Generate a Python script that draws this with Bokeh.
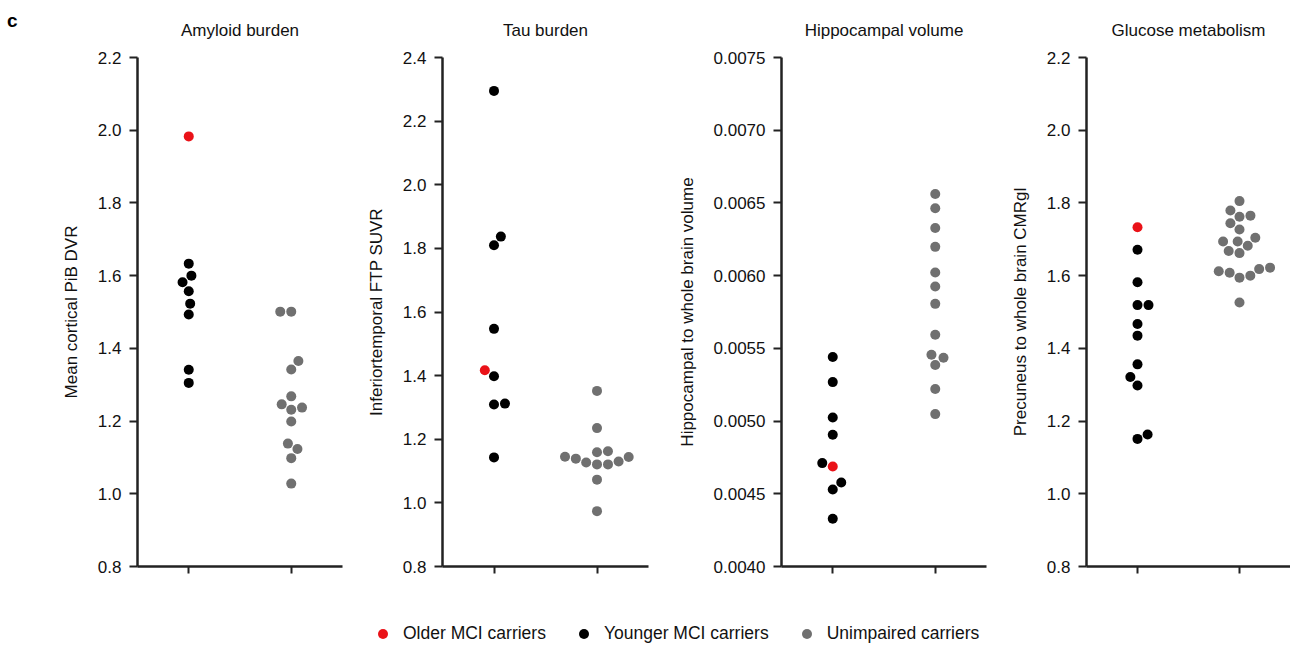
import math
from bokeh.plotting import figure
from bokeh.models import (Range1d, FixedTicker, NumeralTickFormatter, Div,
                          Legend, LegendItem, ColumnDataSource, Title)
from bokeh.layouts import row, column
from bokeh.embed import file_html
from bokeh.resources import INLINE

# ---------------- data ----------------
panel_titles = ["Amyloid burden", "Tau burden", "Hippocampal volume", "Glucose metabolism"]
axis_labels = ["Mean cortical PiB DVR", "Inferiortemporal FTP SUVR",
               "Hippocampal to whole brain volume", "Precuneus to whole brain CMRgl"]
group_names = ["Older MCI carriers", "Younger MCI carriers", "Unimpaired carriers"]
panel_letter = "c"

amyloid_older = [1.983]
amyloid_younger = [1.633, 1.600, 1.582, 1.557, 1.523, 1.493, 1.341, 1.305]
amyloid_unimpaired = [1.501, 1.501, 1.365, 1.342, 1.268, 1.246, 1.237, 1.231,
                      1.199, 1.138, 1.123, 1.098, 1.028]

tau_older = [1.417]
tau_younger = [2.295, 1.837, 1.810, 1.547, 1.398, 1.312, 1.309, 1.143]
tau_unimpaired = [1.352, 1.235, 1.162, 1.159, 1.145, 1.144, 1.139, 1.130,
                  1.127, 1.121, 1.121, 1.073, 0.974]

hippo_older = [0.004688]
hippo_younger = [0.005440, 0.005268, 0.005025, 0.004906, 0.004711, 0.004578,
                 0.004530, 0.004328]
hippo_unimpaired = [0.006561, 0.006464, 0.006327, 0.006198, 0.006022, 0.005925,
                    0.005806, 0.005593, 0.005456, 0.005435, 0.005385, 0.005220,
                    0.005048]

glucose_older = [1.733]
glucose_younger = [1.671, 1.582, 1.519, 1.519, 1.467, 1.435, 1.356, 1.321,
                   1.298, 1.163, 1.151]
glucose_unimpaired = [1.805, 1.779, 1.765, 1.762, 1.744, 1.727, 1.704, 1.694,
                      1.694, 1.682, 1.668, 1.662, 1.622, 1.618, 1.612, 1.608,
                      1.600, 1.5945, 1.526]

y_ticks_a = [0.8, 1.0, 1.2, 1.4, 1.6, 1.8, 2.0, 2.2]
y_ticks_t = [0.8, 1.0, 1.2, 1.4, 1.6, 1.8, 2.0, 2.2, 2.4]
y_ticks_h = [0.0040, 0.0045, 0.0050, 0.0055, 0.0060, 0.0065, 0.0070, 0.0075]
y_ticks_g = [0.8, 1.0, 1.2, 1.4, 1.6, 1.8, 2.0, 2.2]

panels = [
    (amyloid_older, amyloid_younger, amyloid_unimpaired, y_ticks_a, "0.0"),
    (tau_older, tau_younger, tau_unimpaired, y_ticks_t, "0.0"),
    (hippo_older, hippo_younger, hippo_unimpaired, y_ticks_h, "0.0000"),
    (glucose_older, glucose_younger, glucose_unimpaired, y_ticks_g, "0.0"),
]

# ---------------- styling / layout ----------------
RED = "#ea1218"
BLACK = "#000000"
GRAY = "#707070"
AX = "#222222"
TXT = "#111111"
FONT = "Liberation Sans"
DOT = 10
COLLIDE = 11.0

fig_w = [360, 305, 335, 290]
bord_l = [137, 82, 116, 86]
bord_r = [18, 17, 14, 0]
FIG_H = 594
BT, BB = 57, 28
frame_h = FIG_H - BT - BB


def swarm(vals_px, d):
    """greedy beeswarm: returns horizontal pixel offsets"""
    order = sorted(range(len(vals_px)), key=lambda i: vals_px[i])
    placed = []
    offs = [0.0] * len(vals_px)
    last_sign = -1
    for i in order:
        y = vals_px[i]
        cands = [0.0]
        for (px, py) in placed:
            dy = abs(y - py)
            if dy < d:
                dx = math.sqrt(d * d - dy * dy)
                cands += [px + dx, px - dx]
        valid = [c for c in cands
                 if all((c - px) ** 2 + (y - py) ** 2 >= d * d - 1e-6 for px, py in placed)]
        pref = -last_sign
        best = min(valid, key=lambda c: (round(abs(c), 4), 0 if c * pref >= 0 else 1))
        if best != 0:
            last_sign = 1 if best > 0 else -1
        offs[i] = best
        placed.append((best, y))
    return offs


figs = []
for k, (older, younger, unimp, yt, fmt) in enumerate(panels):
    lo, hi = yt[0], yt[-1]
    fw = fig_w[k] - bord_l[k] - bord_r[k]
    ppu_y = frame_h / (hi - lo)
    ppu_x = fw / 2.0

    p = figure(width=fig_w[k], height=FIG_H, x_range=Range1d(0.5, 2.5),
               y_range=Range1d(lo, hi), output_backend="svg", toolbar_location=None,
               min_border_left=bord_l[k], min_border_right=bord_r[k],
               min_border_top=BT, min_border_bottom=BB)
    p.title.visible = False
    p.title.standoff = 0
    p.outline_line_color = None
    p.grid.visible = False
    p.background_fill_color = "white"
    p.border_fill_color = "white"

    xa = p.below[0]
    xa.ticker = FixedTicker(ticks=[1, 2])
    xa.major_label_overrides = {1: "", 2: ""}
    xa.axis_line_width = 2.5
    xa.axis_line_color = AX
    xa.major_tick_line_width = 2
    xa.major_tick_line_color = AX
    xa.major_tick_out = 7
    xa.major_tick_in = 0
    xa.minor_tick_line_color = None

    ya = p.left[0]
    ya.ticker = FixedTicker(ticks=yt)
    ya.formatter = NumeralTickFormatter(format=fmt)
    ya.axis_line_width = 2.5
    ya.axis_line_color = AX
    ya.major_tick_line_width = 2
    ya.major_tick_line_color = AX
    ya.major_tick_out = 8
    ya.major_tick_in = 0
    ya.minor_tick_line_color = None
    ya.major_label_text_font = FONT
    ya.major_label_text_font_size = "17px"
    ya.major_label_text_color = TXT
    ya.major_label_standoff = 8
    ya.axis_label = axis_labels[k]
    ya.axis_label_text_font = FONT
    ya.axis_label_text_font_size = "17px"
    ya.axis_label_text_font_style = "normal"
    ya.axis_label_text_color = TXT
    ya.axis_label_standoff = 14

    # panel title (standoff lifts it away from the frame within the top border)
    p.add_layout(Title(text=panel_titles[k], align="center", text_font=FONT,
                       text_font_size="17px", text_font_style="normal",
                       text_color=TXT, standoff=35), "above")

    # MCI group (older + younger) at x=1, unimpaired at x=2
    mci_vals = list(older) + list(younger)
    mci_off = swarm([v * ppu_y for v in mci_vals], COLLIDE)
    un_off = swarm([v * ppu_y for v in unimp], COLLIDE)

    n_old = len(older)
    src_u = ColumnDataSource(dict(x=[2 + o / ppu_x for o in un_off], y=unimp))
    src_y = ColumnDataSource(dict(x=[1 + o / ppu_x for o in mci_off[n_old:]], y=younger))
    src_o = ColumnDataSource(dict(x=[1 + o / ppu_x for o in mci_off[:n_old]], y=older))
    p.scatter("x", "y", source=src_u, size=DOT, color=GRAY, line_color=None)
    p.scatter("x", "y", source=src_y, size=DOT, color=BLACK, line_color=None)
    p.scatter("x", "y", source=src_o, size=DOT, color=RED, line_color=None)
    figs.append(p)

# ---------------- legend ----------------
lf = figure(width=1290, height=53, output_backend="svg", toolbar_location=None,
            x_range=Range1d(0, 1), y_range=Range1d(0, 1), min_border=0,
            x_axis_location=None, y_axis_location=None)
lf.outline_line_color = None
lf.grid.visible = False
lf.title.visible = False
leg_cols = [RED, BLACK, GRAY]
items = []
for name, c in zip(group_names, leg_cols):
    r = lf.scatter(x=[0.5], y=[0.5], size=DOT, color=c, line_color=None, visible=False)
    items.append(LegendItem(label=name, renderers=[r]))
legend = Legend(items=items, orientation="horizontal", location=(370, 1),
                glyph_width=25, glyph_height=25, label_height=25, label_standoff=8,
                spacing=25, padding=0, margin=0, border_line_color=None,
                background_fill_alpha=0, inactive_fill_alpha=0,
                label_text_font=FONT, label_text_font_size="17.5px",
                label_text_color=TXT)
lf.add_layout(legend)

# ---------------- panel letter ----------------
letter = Div(text=panel_letter, width=20, height=22,
             styles={"position": "absolute", "left": "2px", "top": "6px",
                     "font-family": FONT, "font-size": "19px", "font-weight": "bold",
                     "line-height": "19px", "color": "#000000", "z-index": "10"})

layout = column(letter, row(*figs), lf)
open("out.html", "w").write(file_html(layout, INLINE))
